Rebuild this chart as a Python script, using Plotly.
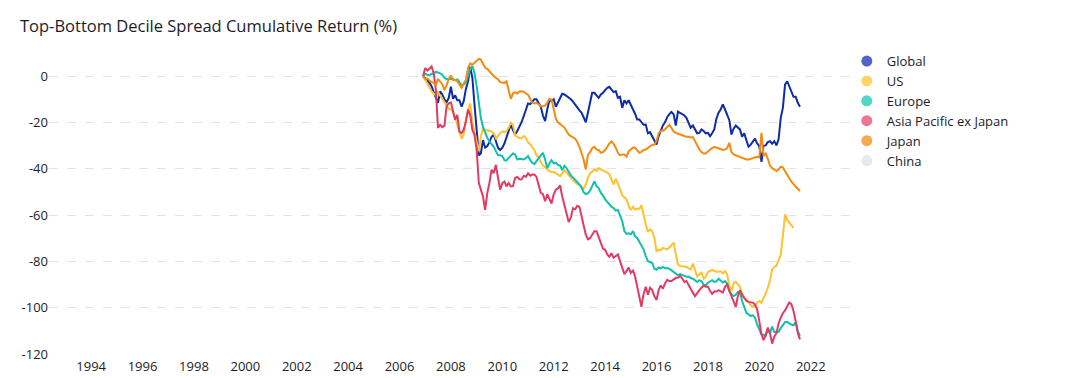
import pandas as pd
import plotly.graph_objects as go

start_month = "2006-12-01"

global_ = [0, -0.7, -1.7, -2.9, -4.3, -6.9, -9.4, -11.5, -6.6, -7.9,
           -10, -11.2, -9.4, -4.6, -9.8, -8.3, -10.4, -10.4, -13.2, -10.8,
           -5.5, -2.2, 4, -0.7, -12.2, -23, -34.2, -33.4, -27.6, -30.9,
           -30.2, -28.5, -26.2, -25.3, -28.5, -30.9, -31.9, -30.9, -29, -26.2,
           -23.7, -20.9, -23.3, -25.2, -23.7, -22, -19.9, -17.3, -14.1, -11.8,
           -12.1, -11, -10, -10, -11.8, -13.2, -17, -19.4, -14.4, -10.4,
           -10.8, -10, -13.2, -11.2, -9.8, -7.6, -7.9, -8.6, -9.1, -10,
           -11, -12.4, -13.7, -14.8, -15.8, -18, -19.9, -15.8, -11.2, -7.2,
           -7.2, -8.6, -9.4, -7.9, -7.2, -6, -5, -4.6, -5.8, -6.9,
           -6.5, -9.4, -8.9, -13.7, -10.4, -11.8, -10.4, -12.7, -14.4, -16.1,
           -18.7, -18.7, -20.1, -21, -20.9, -24.7, -24.2, -26.2, -27.6, -29.5,
           -25.9, -23.7, -21.3, -19.9, -17.7, -16.4, -15.5, -16.5, -21.3, -15.3,
           -15.8, -16.3, -17, -18, -19.9, -22.3, -21.3, -23, -24.7, -24.5,
           -23, -23.7, -24.7, -24.5, -25.9, -24.7, -23, -18.4, -15.8, -14.4,
           -12.2, -14.4, -16.5, -19, -25.2, -22.7, -21.3, -22.3, -23, -26.2,
           -24.7, -27.6, -30.5, -29.6, -28.2, -27, -29, -30.2, -37, -30,
           -29.9, -28.5, -28.1, -29.2, -28.1, -29.9, -27.3, -18, -13.7, -3.6,
           -2.2, -4.6, -7.2, -8.9, -8.9, -11.5, -13.2]

us = [0, -1.7, -3.2, -4.6, -6.5, -7.5, -8.3, -6.9, -8.3, -10.1,
      -11.2, -13, -14.1, -14.4, -15.3, -18, -21.3, -23.7, -27, -25.3,
      -18.7, -14.4, -11.8, -19.9, -24.2, -28.1, -32.4, -26.2, -22.7, -23.6,
      -23.3, -23.7, -23.9, -24.7, -26.8, -25.9, -24.5, -23.9, -24.2, -23.7,
      -22.3, -20.1, -21, -25.6, -26.2, -26.8, -26.8, -25.9, -26.6, -28.5,
      -29.5, -30.5, -31.9, -34.2, -35.1, -37.1, -38.6, -39.4, -40.3, -41,
      -41.4, -41.4, -42, -42.7, -43.2, -42, -40.6, -41.7, -42.9, -43.6,
      -44.9, -45.8, -46.6, -46.9, -47.8, -48.6, -46.8, -43.9, -42, -41.1,
      -40.3, -40.9, -39.7, -40.3, -40.9, -41.2, -41.7, -42.4, -44.6, -46.8,
      -44.3, -46.3, -48.9, -51.5, -52.5, -53.2, -55.8, -57.8, -56.4, -57.6,
      -57.3, -57.3, -55.8, -60.4, -64, -67.3, -66.2, -67, -69.8, -75.5,
      -75.1, -75.1, -74.2, -74.5, -74.8, -74, -73.1, -71.9, -77, -81.3,
      -82, -82, -82.2, -82.4, -82.9, -83.5, -80.9, -84.2, -86.6, -85.6,
      -84.9, -87.5, -86.6, -84.6, -84.2, -83.7, -84, -84.5, -84.5, -84.3,
      -85.2, -84.2, -85.6, -90.6, -92.8, -89.5, -88.8, -89.9, -90.9, -93.8,
      -95.7, -96.4, -97.8, -99, -99.6, -99, -97.8, -97.1, -97.8, -96.1,
      -93.8, -91.4, -88.1, -83.5, -82.3, -81.9, -79.1, -77, -69.1, -59.7,
      -62.2, -63.3, -64.5, -65.5]

europe = [0, 1, 0.6, 0.4, 1, 1, 1.9, 1.7, 1.2, 0.6,
          -0.7, -1.2, -1.2, -0.9, -1.2, -1.7, -1.4, -2.6, -4, -3.7,
          -2.6, 0, 3.2, 4.3, 1.4, -4.3, -12.9, -17.9, -21.9, -24.5,
          -26.6, -28.2, -29.2, -30.5, -32.4, -34.2, -34.2, -34.5, -36.3, -36.4,
          -35.3, -34.5, -33.4, -33.8, -36, -35.7, -36, -36, -35.4, -34.5,
          -36.3, -37.4, -38, -36.5, -35.4, -34.2, -33.1, -36, -39.7, -37.7,
          -36.3, -37.7, -37.4, -38.3, -38.6, -40.6, -38.8, -39.7, -41.2, -42.9,
          -43.7, -44.6, -45.8, -46.9, -48.1, -50.1, -50.9, -50.6, -49.5, -47.5,
          -45.5, -47.5, -48.3, -50.4, -51.5, -53.2, -54.4, -55, -56.4, -57,
          -58.1, -57.8, -60.4, -62.6, -66.9, -68.1, -67.9, -68.3, -66.9, -69.1,
          -69.9, -71.4, -72.8, -74.8, -77.7, -79.9, -80.4, -80.6, -83.2, -83.6,
          -82.6, -83, -82.4, -83, -82.9, -83.2, -83.9, -84.6, -85.2, -85.9,
          -85.5, -85.8, -86.3, -86.6, -86.5, -87.2, -87.5, -88.2, -88.9, -88.1,
          -88.6, -90.1, -90.4, -89.2, -88.6, -88.1, -88.9, -88.6, -87.5, -88.1,
          -89.1, -88.5, -89.6, -92.8, -94.2, -95, -94.4, -93.2, -93.2, -97.1,
          -100, -102.2, -102.9, -103.6, -103.3, -104.3, -107.2, -109.4, -111.5, -111.7,
          -112.2, -109.6, -111, -108.2, -110.5, -110.5, -110.5, -108.8, -107.3, -106.2,
          -106.2, -106.8, -107.3, -107.6, -106.2, -110.1, -112.2]

asia_pacific_ex_japan = [0, 3.5, 2.4, 3.5, 4.2, 1.3, -5.9, -22.4, -21, -22,
                         -21.4, -13, -11.7, -11.4, -15.3, -18.8, -16.7, -24, -24.6, -23.2,
                         -19.6, -14.5, -16.7, -23.2, -25.3, -31.8, -46.2, -49, -52, -57.7,
                         -50.5, -46.2, -40.4, -41.9, -38.3, -44, -49, -46.2, -45.5, -47.6,
                         -46.2, -47.6, -47.5, -44, -43.5, -44.5, -44.6, -43, -43.5, -42,
                         -43, -42.5, -42.5, -43.5, -47, -50.4, -51, -54, -51, -53,
                         -55, -51, -49, -48.5, -47.2, -52, -55.5, -59, -63, -61,
                         -57, -57.5, -56, -56.5, -60.5, -65, -68.5, -70.5, -70, -68.5,
                         -67, -67, -69.5, -72, -74.5, -75, -77, -78, -76.5, -78.4,
                         -77.7, -77, -79.9, -82.7, -85.5, -84.2, -82.7, -85, -84, -86.3,
                         -91, -95, -99.6, -94.2, -91, -94.4, -91.4, -92.4, -95, -96.7,
                         -92.4, -90.4, -91.8, -89.5, -88, -88.5, -88.5, -87.8, -87.2, -87,
                         -86.3, -87.4, -88.9, -88.5, -90.4, -91.8, -93.5, -95, -93.5, -92.4,
                         -91.4, -90.4, -91, -91, -92.8, -94, -93, -93, -92.4, -93,
                         -93.5, -91, -90, -92.8, -95.3, -97, -99.6, -95.3, -92.4, -94.5,
                         -96, -97, -97.5, -97.8, -97.8, -98.7, -100.7, -105.8, -111.5, -114,
                         -111.7, -108.6, -111, -115.5, -112.5, -111, -106.8, -104.3, -102.4, -101.2,
                         -99.3, -97.8, -98.5, -101.4, -105.8, -110.8, -113.7]

japan = [0, -1.2, -1, -1.7, -2.6, -2.9, -4, -1.2, -2.2, -3.6,
         -6, -4, -1.2, 0.3, -1.7, -1.7, -2.2, -3.6, -5, -3.2,
         -1.7, 3.6, 5.5, 4.9, 5.8, 6.3, 7.5, 7.2, 5.5, 3.6,
         3.2, 2.2, 0.7, 0, -0.7, -1.4, -2.6, -2.9, -2.9, -2.3,
         -6.5, -9.8, -7.5, -6.9, -7.5, -6.6, -6.5, -6.8, -7.5, -8,
         -9.8, -11.5, -11.8, -11.5, -12.1, -13, -13, -12.7, -11.5, -9.8,
         -10.1, -14.1, -18.4, -19.9, -20.7, -21.6, -22.2, -23.7, -25.2, -25.9,
         -26.6, -27, -28.5, -30.5, -33.4, -36, -40.3, -34, -32.8, -31.1,
         -30.5, -31.7, -31.9, -33.1, -32.8, -31.9, -30.5, -29.1, -28.2, -29.2,
         -30.9, -33.1, -34.2, -33.8, -33.8, -34.8, -32.5, -31.4, -30.8, -30.9,
         -32.1, -33.1, -32.7, -31.9, -31.7, -30.9, -30.2, -29.6, -29.5, -28.1,
         -24.7, -23.6, -23.6, -23, -21.9, -21, -22.4, -23.9, -24.5, -25,
         -25.2, -25.5, -25.9, -26.2, -26.2, -26.5, -26.3, -28.1, -29.5, -31.7,
         -32.8, -33.4, -33.4, -32.4, -31.7, -31.1, -30.6, -30.8, -31.2, -31.7,
         -31.9, -31.7, -31.1, -28.8, -32.8, -33.8, -34.2, -34.5, -35, -35.3,
         -35.7, -36, -36, -35.7, -35.3, -34.8, -34.8, -35.1, -24.5, -34.5,
         -33.4, -35.7, -38.6, -39.7, -40.3, -41, -40.3, -39.1, -39.4, -40.9,
         -42.6, -44.3, -45.6, -46.6, -47.5, -48.3, -49.6]

china = []

series_names = ["Global", "US", "Europe", "Asia Pacific ex Japan", "Japan", "China"]
series_values = [global_, us, europe, asia_pacific_ex_japan, japan, china]
line_colors = ["#0d2ca6", "#ffc12e", "#10bfae", "#e23b62", "#f28b12", "#e6e9ef"]
legend_colors = ["#5266c9", "#ffd466", "#4ed8c6", "#ef7690", "#f5aa4d", "#e6e9ef"]

y_tick_vals = [0, -20, -40, -60, -80, -100, -120]
y_tick_text = ["0", "-20", "-40", "-60", "-80", "-100", "-120"]

FONT = "Segoe UI, Open Sans, sans-serif"

# page body has an 8px margin: figure is offset accordingly
W, H = 1079, 370

fig = go.Figure()
for name, vals, lc in zip(series_names, series_values, line_colors):
    if not vals:
        continue
    dates = pd.date_range(start_month, periods=len(vals), freq="MS")
    fig.add_trace(go.Scatter(x=dates, y=vals, mode="lines", name=name,
                             line=dict(color=lc, width=2), showlegend=False))

for name, gc in zip(series_names, legend_colors):
    fig.add_trace(go.Scatter(x=[None], y=[None], mode="markers", name=name,
                             marker=dict(color=gc, size=11, symbol="circle"),
                             showlegend=True))

fig.update_layout(
    width=W, height=H,
    margin=dict(l=41, r=237, t=45, b=24, autoexpand=False),
    paper_bgcolor="white", plot_bgcolor="white",
    font=dict(family=FONT, color="#222", size=13),
    title=dict(text="Top-Bottom Decile Spread Cumulative Return (%)",
               x=12 / W, xanchor="left", xref="container",
               y=1 - 18 / H, yanchor="middle", yref="container",
               font=dict(family=FONT, size=16.5, color="#1c1c28")),
    showlegend=True,
    legend=dict(x=0.996, xanchor="left", y=1.023, yanchor="top",
                font=dict(family=FONT, size=13, color="#1c1c28"),
                bgcolor="rgba(0,0,0,0)", borderwidth=0, tracegroupgap=0),
    xaxis=dict(type="date", range=["1992-05-12", "2023-07-13"],
               tick0="1994-01-01", dtick="M24", tickformat="%Y",
               showgrid=False, zeroline=False, showline=False, ticks="",
               automargin=False, ticklabelstandoff=3,
               tickfont=dict(family=FONT, size=13, color="#1c1c28")),
    yaxis=dict(range=[-120, 10], tickvals=y_tick_vals, ticktext=y_tick_text,
               showgrid=True, gridcolor="#e3e3e3", griddash="dash", gridwidth=1,
               zeroline=False, showline=False, ticks="", automargin=False,
               tickfont=dict(family=FONT, size=13, color="#1c1c28")),
)

fig.write_html("out.html")
